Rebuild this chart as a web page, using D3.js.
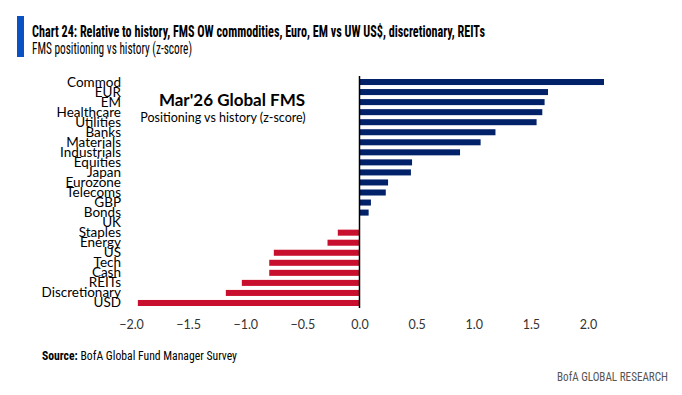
<!DOCTYPE html>
<html><head><meta charset="utf-8">
<script src="https://cdn.jsdelivr.net/npm/d3@7/dist/d3.min.js"></script>
<style>
body{margin:0;background:#fff;}
svg{display:block;}
</style></head>
<body>
<svg id="chart" width="682" height="395"></svg>
<script>
const categories = ["Commod","EUR","EM","Healthcare","Utilities","Banks","Materials","Industrials","Equities","Japan","Eurozone","Telecoms","GBP","Bonds","UK","Staples","Energy","US","Tech","Cash","REITs","Discretionary","USD"];
const values = [2.14,1.65,1.62,1.60,1.55,1.19,1.06,0.88,0.46,0.45,0.25,0.23,0.10,0.08,0.0,-0.19,-0.28,-0.75,-0.79,-0.79,-1.03,-1.17,-1.94];
const tickValues = [-2.0,-1.5,-1.0,-0.5,0.0,0.5,1.0,1.5,2.0];

const svg = d3.select("#chart");
const font = "Lato, 'Noto Sans', sans-serif";
const condFont = "'Liberation Sans Narrow', 'Roboto Condensed', Roboto, sans-serif";

// header
svg.append("rect").attr("x",17).attr("y",16).attr("width",7).attr("height",41).attr("fill","#0a52c4");
svg.append("text").attr("x",32).attr("y",37).attr("font-family",condFont).attr("font-weight","bold")
  .attr("font-size",17).attr("fill","#000").attr("textLength",453).attr("lengthAdjust","spacingAndGlyphs")
  .text("Chart 24: Relative to history, FMS OW commodities, Euro, EM vs UW US$, discretionary, REITs");
svg.append("text").attr("x",32).attr("y",54).attr("font-family",condFont)
  .attr("font-size",16).attr("fill","#000").attr("textLength",160).attr("lengthAdjust","spacingAndGlyphs")
  .text("FMS positioning vs history (z-score)");

const x = d3.scaleLinear().domain([-2,2]).range([131,588]);
const y = d3.scaleBand().domain(categories).range([77,308]).paddingInner(0.4).paddingOuter(0.2);

// bars
svg.append("g").selectAll("rect").data(categories).join("rect")
  .attr("x",(d,i)=>x(Math.min(0,values[i])))
  .attr("y",d=>y(d))
  .attr("width",(d,i)=>Math.abs(x(values[i])-x(0)))
  .attr("height",y.bandwidth())
  .attr("fill",(d,i)=>values[i]>=0?"#012169":"#c8102e");

// zero line
svg.append("line").attr("x1",x(0)).attr("x2",x(0)).attr("y1",76).attr("y2",308)
  .attr("stroke","#000").attr("stroke-width",1.5);

// category labels
svg.append("g").selectAll("text").data(categories).join("text")
  .attr("x",121).attr("y",d=>y(d)+y.bandwidth()/2+4.5)
  .attr("text-anchor","end").attr("font-family",font).attr("font-size",13.5).attr("fill","#000")
  .text(d=>d);

// x axis
const xAxis = d3.axisBottom(x).tickValues(tickValues).tickFormat(d3.format(".1f")).tickSize(0).tickPadding(0);
const gx = svg.append("g").attr("transform","translate(0,318)").call(xAxis);
gx.select(".domain").remove();
gx.selectAll("text").attr("font-family",font).attr("font-size",12.5).attr("fill","#333").attr("dy","0.9em");

// inset
svg.append("text").attr("x",232).attr("y",106).attr("text-anchor","middle").attr("font-family",font)
  .attr("font-weight","bold").attr("font-size",17).attr("fill","#000").text("Mar'26 Global FMS");
svg.append("text").attr("x",223).attr("y",122).attr("text-anchor","middle").attr("font-family",font)
  .attr("font-size",12.5).attr("fill","#000").text("Positioning vs history (z-score)");

// footer
const src = svg.append("text").attr("x",42).attr("y",360).attr("font-family",condFont).attr("font-size",12.5)
  .attr("textLength",195).attr("lengthAdjust","spacingAndGlyphs");
src.append("tspan").attr("font-weight","bold").text("Source: ");
src.append("tspan").text("BofA Global Fund Manager Survey");
svg.append("text").attr("x",668).attr("y",381).attr("text-anchor","end").attr("font-family",condFont)
  .attr("font-size",12.5).attr("fill","#555").attr("textLength",111).attr("lengthAdjust","spacingAndGlyphs")
  .text("BofA GLOBAL RESEARCH");
</script>
</body></html>
